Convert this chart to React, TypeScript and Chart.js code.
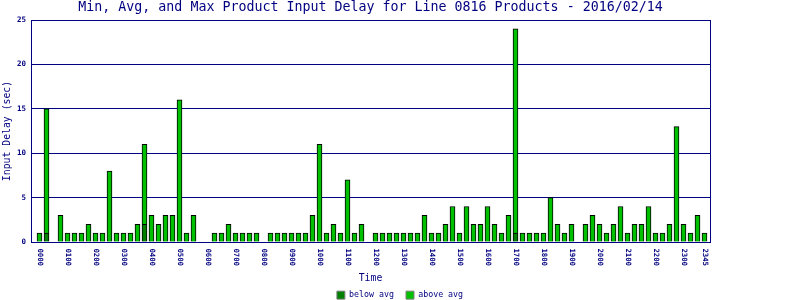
import React, { useEffect, useRef } from 'react';
import { Chart, registerables } from 'chart.js';

Chart.register(...registerables);

// 15-minute time slots of the day
const SLOT_TIMES = [
  '0000', '0015', '0030', '0045', '0100', '0115', '0130', '0145',
  '0200', '0215', '0230', '0245', '0300', '0315', '0330', '0345',
  '0400', '0415', '0430', '0445', '0500', '0515', '0530', '0545',
  '0600', '0615', '0630', '0645', '0700', '0715', '0730', '0745',
  '0800', '0815', '0830', '0845', '0900', '0915', '0930', '0945',
  '1000', '1015', '1030', '1045', '1100', '1115', '1130', '1145',
  '1200', '1215', '1230', '1245', '1300', '1315', '1330', '1345',
  '1400', '1415', '1430', '1445', '1500', '1515', '1530', '1545',
  '1600', '1615', '1630', '1645', '1700', '1715', '1730', '1745',
  '1800', '1815', '1830', '1845', '1900', '1915', '1930', '1945',
  '2000', '2015', '2030', '2045', '2100', '2115', '2130', '2145',
  '2200', '2215', '2230', '2245', '2300', '2315', '2330', '2345',
];

// "below avg" stacked segment (sec)
const BELOW_AVG = [
  0, 1, 0, 0, 0, 0, 0, 0,
  0, 0, 0, 0, 0, 0, 0, 2,
  0, 0, 0, 0, 0, 0, 0, 0,
  0, 0, 0, 0, 0, 0, 0, 0,
  0, 0, 0, 0, 0, 0, 0, 0,
  0, 0, 0, 0, 0, 0, 0, 0,
  0, 0, 0, 0, 0, 0, 0, 0,
  0, 0, 0, 0, 0, 0, 0, 0,
  0, 0, 0, 0, 1, 0, 0, 0,
  0, 0, 0, 0, 0, 0, 0, 0,
  0, 0, 0, 0, 0, 0, 0, 0,
  0, 0, 0, 0, 0, 0, 0, 0,
];

// "above avg" stacked segment (sec)
const ABOVE_AVG = [
  1, 14, 0, 3, 1, 1, 1, 2,
  1, 1, 8, 1, 1, 1, 2, 9,
  3, 2, 3, 3, 16, 1, 3, 0,
  0, 1, 1, 2, 1, 1, 1, 1,
  0, 1, 1, 1, 1, 1, 1, 3,
  11, 1, 2, 1, 7, 1, 2, 0,
  1, 1, 1, 1, 1, 1, 1, 3,
  1, 1, 2, 4, 1, 4, 2, 2,
  4, 2, 1, 3, 23, 1, 1, 1,
  1, 5, 2, 1, 2, 0, 2, 3,
  2, 1, 2, 4, 1, 2, 2, 4,
  1, 1, 2, 13, 2, 1, 3, 1,
];

const TITLE = 'Min, Avg, and Max Product Input Delay for Line 0816 Products - 2016/02/14';
const X_TITLE = 'Time';
const Y_TITLE = 'Input Delay (sec)';
const Y_MAX = 25;
const Y_STEP = 5;

const NAVY = '#000080';
const DARK_GREEN = '#008000';
const LIGHT_GREEN = '#00C000';
const FONT = "'DejaVu Sans Mono', monospace";

export default function App() {
  const ref = useRef<HTMLCanvasElement>(null);

  useEffect(() => {
    document.body.style.margin = '0';
    Chart.defaults.font.family = FONT;
    const last = SLOT_TIMES.length - 1;
    const tickSlots = SLOT_TIMES.map((_, i) => i).filter(
      (i) => SLOT_TIMES[i].endsWith('00') || i === last
    );
    const toPoints = (arr: number[]) =>
      arr.map((v, i) => ({ x: i, y: v > 0 ? v : null }));

    const chart = new Chart(ref.current as HTMLCanvasElement, {
      type: 'bar',
      data: {
        datasets: [
          {
            label: 'below avg',
            data: toPoints(BELOW_AVG) as any,
            backgroundColor: DARK_GREEN,
            borderColor: '#000000',
            borderWidth: 1,
            barThickness: 5,
          },
          {
            label: 'above avg',
            data: toPoints(ABOVE_AVG) as any,
            backgroundColor: LIGHT_GREEN,
            borderColor: '#000000',
            borderWidth: 1,
            barThickness: 5,
          },
        ],
      },
      options: {
        responsive: false,
        animation: false,
        layout: { padding: 0 },
        plugins: {
          title: {
            display: true,
            text: TITLE,
            fullSize: false,
            color: NAVY,
            font: { family: FONT, size: 13.3, weight: 'normal', lineHeight: '16px' } as any,
            padding: { top: 0, bottom: 4 },
          },
          legend: {
            position: 'bottom',
            maxHeight: 21,
            labels: {
              boxWidth: 8,
              boxHeight: 8,
              padding: 12,
              color: NAVY,
              font: { family: FONT, size: 8.3 },
              generateLabels: (c: any) =>
                Chart.defaults.plugins.legend.labels
                  .generateLabels(c)
                  .map((l: any) => ({ ...l, strokeStyle: '#808080', lineWidth: 1 })),
            },
          },
          tooltip: { enabled: false },
        },
        scales: {
          x: {
            type: 'linear',
            offset: false,
            min: -1.2143,
            max: 95.7857,
            stacked: true,
            grid: { display: false, drawTicks: false, offset: false },
            border: { display: true, color: NAVY, width: 1 },
            afterBuildTicks: (s: any) => {
              s.ticks = tickSlots.map((v) => ({ value: v }));
            },
            afterFit: (s: any) => {
              s.height = 37;
            },
            ticks: {
              autoSkip: false,
              minRotation: -90,
              maxRotation: -90,
              padding: 24,
              color: NAVY,
              font: { family: FONT, size: 7.3, weight: 'bold' },
              callback: (v: any) => SLOT_TIMES[v as number] ?? '',
            },
            title: {
              display: true,
              text: X_TITLE,
              color: NAVY,
              font: { family: FONT, size: 9.8 },
              padding: { top: 0, bottom: -5.2 },
            },
          },
          y: {
            min: 0,
            max: Y_MAX,
            stacked: true,
            afterFit: (s: any) => {
              s.width = 31;
            },
            ticks: {
              stepSize: Y_STEP,
              padding: 5,
              color: NAVY,
              font: { family: FONT, size: 7.5, weight: 'bold' },
            },
            grid: { color: NAVY, lineWidth: 1, drawTicks: false },
            border: { display: true, color: NAVY, width: 1 },
            title: {
              display: true,
              text: Y_TITLE,
              color: NAVY,
              font: { family: FONT, size: 9.8 },
              padding: { top: 2, bottom: 0 },
            },
          },
          y2: {
            position: 'right',
            display: true,
            grid: { display: false, drawTicks: false },
            ticks: { display: false },
            border: { display: true, color: NAVY, width: 1 },
            afterFit: (s: any) => {
              s.width = 90;
            },
          },
        },
      } as any,
    });
    return () => chart.destroy();
  }, []);

  return (
    <div style={{ width: 800, height: 300 }}>
      <canvas ref={ref} width={800} height={300} />
    </div>
  );
}
